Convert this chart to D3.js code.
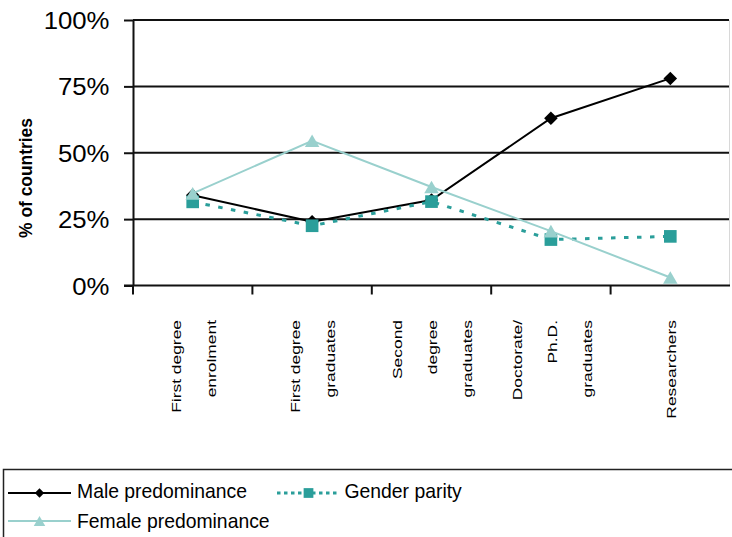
<!DOCTYPE html>
<html>
<head>
<meta charset="utf-8">
<script src="https://cdn.jsdelivr.net/npm/d3@7"></script>
<style>
  html, body { margin: 0; padding: 0; background: #fff; }
  svg { display: block; font-family: "Liberation Sans", Arial, sans-serif; }
</style>
</head>
<body>
<svg id="chart" width="732" height="537"></svg>
<script>
// Categories (each label split into its wrapped lines)
const categories = ["fde", "fdg", "sdg", "phd", "res"];
const categoryLines = [
  ["First degree", "enrolment"],
  ["First degree", "graduates"],
  ["Second", "degree", "graduates"],
  ["Doctorate/", "Ph.D.", "graduates"],
  ["Researchers"]
];

// Share of countries (%) per category
const malePredominance   = [34, 24, 32.2, 63, 78];
const genderParity       = [31.5, 22.5, 31.6, 17.3, 18.5];
const femalePredominance = [34.7, 54.5, 37.1, 20.5, 3];

const yTicks = [0, 25, 50, 75, 100];
const yTickLabels = ["0%", "25%", "50%", "75%", "100%"];

const seriesNames = ["Male predominance", "Gender parity", "Female predominance"];

const svg = d3.select("#chart");

const plot = { left: 133, right: 730, top: 20, bottom: 285.5 };

const x = d3.scaleBand().domain(categories).range([plot.left, plot.right]).padding(0);
const y = d3.scaleLinear().domain([0, 100]).range([plot.bottom, plot.top]);

const cx = (i) => x(categories[i]) + x.bandwidth() / 2;

// Horizontal gridlines
svg.append("g")
  .selectAll("line")
  .data(yTicks.filter(t => t > 0))
  .join("line")
  .attr("x1", plot.left).attr("x2", plot.right - 1)
  .attr("y1", d => y(d)).attr("y2", d => y(d))
  .attr("stroke", "#111").attr("stroke-width", 2);

// Right border of the plot area
svg.append("line")
  .attr("x1", plot.right - 0.5).attr("x2", plot.right - 0.5)
  .attr("y1", plot.top).attr("y2", plot.bottom)
  .attr("stroke", "#d8d8d8").attr("stroke-width", 1);

// Y axis
const yAxis = svg.append("g")
  .attr("transform", `translate(${plot.left},0)`)
  .call(d3.axisLeft(y).tickValues(yTicks).tickSize(9).tickSizeOuter(0).tickFormat(""));
yAxis.select(".domain").attr("stroke", "#111").attr("stroke-width", 2);
yAxis.selectAll(".tick line").attr("stroke", "#111").attr("stroke-width", 2);

// Y tick labels
svg.append("g")
  .selectAll("text")
  .data(yTicks)
  .join("text")
  .attr("transform", (d) => `translate(109.5,${y(d) + 9}) scale(1.1,1)`)
  .attr("text-anchor", "end")
  .attr("font-size", 23.4)
  .attr("fill", "#000")
  .text((d, i) => yTickLabels[i]);

// X axis with ticks at category boundaries
const bounds = categories.map(c => x(c)).concat([plot.right]);
svg.append("line")
  .attr("x1", plot.left - 9).attr("x2", plot.right)
  .attr("y1", plot.bottom).attr("y2", plot.bottom)
  .attr("stroke", "#111").attr("stroke-width", 2);
svg.append("g")
  .selectAll("line")
  .data(bounds.slice(0, -1))
  .join("line")
  .attr("x1", d => d).attr("x2", d => d)
  .attr("y1", plot.bottom).attr("y2", plot.bottom + 9)
  .attr("stroke", "#111").attr("stroke-width", 2);

// X category labels, rotated and spread across the band
const lineGap = 35;
const labelG = svg.append("g");
categoryLines.forEach((lines, i) => {
  const n = lines.length;
  lines.forEach((txt, j) => {
    const colCenter = cx(i) + 2 + (j - (n - 1) / 2) * lineGap;
    labelG.append("text")
      .attr("transform", `translate(${colCenter + 3.6},320) rotate(-90) scale(1.28,1)`)
      .attr("text-anchor", "end")
      .attr("font-size", 13.6)
      .attr("fill", "#000")
      .text(txt);
  });
});

// Y axis title
svg.append("text")
  .attr("transform", "translate(31.5,178) rotate(-90) scale(1,1.1)")
  .attr("text-anchor", "middle")
  .attr("font-size", 17.4)
  .attr("font-weight", "bold")
  .text("% of countries");

// Marker helpers
const squarePath = (s) => d3.symbol(d3.symbolSquare, s)();
const trianglePath = (s) => {
  // triangle centred on its bounding box
  const w = s, h = s * 0.87;
  return `M0,${-h / 2}L${w / 2},${h / 2}L${-w / 2},${h / 2}Z`;
};

const colors = { male: "#000000", parity: "#2a9e9a", female: "#99d0cd" };

const lineGen = d3.line().x((d, i) => cx(i)).y(d => y(d));

const series = [
  { key: "male", values: malePredominance, width: 2, dash: null },
  { key: "parity", values: genderParity, width: 3, dash: "4.5 8.5" },
  { key: "female", values: femalePredominance, width: 2, dash: null }
];

series.forEach(s => {
  const g = svg.append("g");
  g.append("path")
    .datum(s.values)
    .attr("d", lineGen)
    .attr("fill", "none")
    .attr("stroke", colors[s.key])
    .attr("stroke-width", s.width)
    .attr("stroke-dasharray", s.dash);
  const m = g.selectAll("path.m")
    .data(s.values)
    .join("path")
    .attr("class", "m")
    .attr("fill", colors[s.key]);
  if (s.key === "male") {
    m.attr("d", squarePath(92)).attr("transform", (d, i) => `translate(${cx(i)},${y(d)}) rotate(45)`);
  } else if (s.key === "parity") {
    m.attr("d", squarePath(160)).attr("transform", (d, i) => `translate(${cx(i)},${y(d)})`);
  } else {
    m.attr("d", trianglePath(14.5)).attr("transform", (d, i) => `translate(${cx(i)},${y(d)})`);
  }
});

// Legend
const legend = svg.append("g");
legend.append("rect")
  .attr("x", 3.5).attr("y", 469.5)
  .attr("width", 760).attr("height", 100)
  .attr("fill", "#fff").attr("stroke", "#222").attr("stroke-width", 1.5);

const legendItems = [
  { key: "male", x: 8, y: 493, tx: 77, ty: 497.5, dash: null, width: 2 },
  { key: "parity", x: 277, y: 493, tx: 344.5, ty: 497.5, dash: "3.5 3.5", width: 3 },
  { key: "female", x: 8, y: 521, tx: 77, ty: 527.5, dash: null, width: 2 }
];
legendItems.forEach((it, i) => {
  const g = legend.append("g");
  g.append("line")
    .attr("x1", it.x).attr("x2", it.x + 63)
    .attr("y1", it.y).attr("y2", it.y)
    .attr("stroke", colors[it.key])
    .attr("stroke-width", it.width)
    .attr("stroke-dasharray", it.dash);
  const mx = it.x + 31.5;
  const mk = g.append("path").attr("fill", colors[it.key]);
  if (it.key === "male") {
    mk.attr("d", squarePath(44)).attr("transform", `translate(${mx},${it.y}) rotate(45)`);
  } else if (it.key === "parity") {
    mk.attr("d", squarePath(95)).attr("transform", `translate(${mx},${it.y})`);
  } else {
    mk.attr("d", trianglePath(11.5)).attr("transform", `translate(${mx},${it.y})`);
  }
  g.append("text")
    .attr("transform", `translate(${it.tx},${it.ty}) scale(0.95,1)`)
    .attr("font-size", 20.4)
    .attr("fill", "#000")
    .text(seriesNames[i]);
});
</script>
</body>
</html>
